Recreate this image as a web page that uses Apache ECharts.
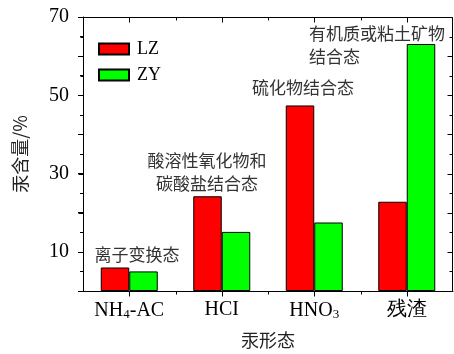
<!DOCTYPE html>
<html>
<head>
<meta charset="utf-8">
<script src="https://cdn.jsdelivr.net/npm/echarts@6/dist/echarts.min.js"></script>
<style>html,body{margin:0;padding:0;background:#fff;}#c{width:454px;height:354px;}</style>
</head>
<body>
<div id="c"></div>
<script>
const categories = ['NH{sub|4}-AC', 'HCI', 'HNO{sub|3}', '残渣'];
const seriesNames = ['LZ', 'ZY'];
const lzValues = [6.0, 24.2, 47.4, 22.8];
const zyValues = [5.0, 15.1, 17.5, 63.1];
const yTickLabels = [10, 30, 50, 70];
const annotations = ['离子变换态', '酸溶性氧化物和\n碳酸盐结合态', '硫化物结合态', '有机质或粘土矿物\n结合态'];

const serif = 'Liberation Serif';
const cjk = 'Noto Sans CJK SC';
const chart = echarts.init(document.getElementById('c'));

const ls = () => ({color: '#000', width: 1});
const annoStyle = {fontFamily: cjk, fontSize: 17, fill: '#333', lineHeight: 23};
const Y_MIN = 0, Y_MAX = 70;

chart.setOption({
  animation: false,
  grid: {left: 83, right: 1, top: 17, bottom: 62},
  legend: {
    orient: 'vertical', left: 93, top: 35,
    itemWidth: 30, itemHeight: 11, itemGap: 8,
    icon: 'rect',
    textStyle: {fontFamily: serif, fontSize: 18, color: '#000', padding: [0, 0, 0, 3]},
    data: seriesNames
  },
  xAxis: {
    type: 'category', data: categories, position: 'bottom',
    name: '汞形态', nameLocation: 'middle', nameGap: 40,
    nameTextStyle: {fontFamily: cjk, fontSize: 18, color: '#222'},
    axisLine: {show: true, lineStyle: ls()},
    axisTick: {show: true, alignWithLabel: true, length: 5, lineStyle: ls()},
    axisLabel: {
      show: true, interval: 0, margin: 9, fontFamily: serif, fontSize: 20, color: '#000',
      rich: {
        sub: {fontFamily: serif, fontSize: 13, color: '#000', verticalAlign: 'bottom', padding: [8, 0, 0, 0]}
      }
    }
  },
  yAxis: {
    type: 'value', min: Y_MIN, max: Y_MAX, interval: 10, position: 'left',
    name: '汞含量/%', nameLocation: 'middle', nameGap: 54, nameRotate: 90,
    nameTextStyle: {fontFamily: cjk, fontSize: 18, color: '#222'},
    splitLine: {show: false},
    axisLine: {show: true, lineStyle: ls()},
    axisTick: {show: true, length: 5, lineStyle: ls()},
    minorTick: {show: true, splitNumber: 2, length: 3, lineStyle: ls()},
    axisLabel: {
      margin: 14, fontFamily: serif, fontSize: 20, color: '#000',
      formatter: v => yTickLabels.indexOf(v) >= 0 ? String(v) : ''
    }
  },
  series: [
    {
      name: seriesNames[0], type: 'bar', data: lzValues, barWidth: 28.5, barGap: '0%',
      itemStyle: {color: '#ff0000', borderColor: '#000', borderWidth: 1}
    },
    {
      name: seriesNames[1], type: 'bar', data: zyValues, barWidth: 28.5, barGap: '0%',
      itemStyle: {color: '#00ff00', borderColor: '#000', borderWidth: 1}
    }
  ]
});

// Frame and mirrored ticks derived from the axes' own scales
const cx = i => chart.convertToPixel({xAxisIndex: 0}, i);
const yv = v => chart.convertToPixel({yAxisIndex: 0}, v);
const band = cx(1) - cx(0);
const L = Math.round(cx(0) - band / 2) + 0.5;
const R = Math.round(cx(categories.length - 1) + band / 2) - 0.5;
const T = Math.round(yv(Y_MAX)) + 0.5;
const B = Math.round(yv(Y_MIN)) + 0.5;
const seg = (x1, y1, x2, y2) => ({type: 'line', z: 100, silent: true,
  shape: {x1: x1, y1: y1, x2: x2, y2: y2}, style: {stroke: '#000', lineWidth: 1}});
const g = [];
g.push(seg(L, T, R, T), seg(L, B, R, B), seg(L, T, L, B), seg(R, T, R, B));
for (let v = Y_MIN; v <= Y_MAX; v += 5) {
  const y = Math.round(yv(v)) + 0.5;
  const len = v % 10 === 0 ? 5 : 3;
  g.push(seg(R - len, y, R, y));           // right, inside
  g.push(seg(L - len, y, L, y));           // left, outside
}
for (let i = 0; i < categories.length; i++) {
  const x = Math.round(cx(i)) + 0.5;
  g.push(seg(x, T, x, T + 5));             // top centre, inside
  g.push(seg(x, B, x, B + 5));             // bottom centre, outside
  if (i > 0) {
    const xb = Math.round(cx(i) - band / 2) + 0.5;
    g.push(seg(xb, T, xb, T + 3));
    g.push(seg(xb, B, xb, B + 3));
  }
}
g.push({type: 'text', x: 137, y: 255, style: Object.assign({text: annotations[0], align: 'center', verticalAlign: 'middle'}, annoStyle)});
g.push({type: 'text', x: 207, y: 172, style: Object.assign({text: annotations[1], align: 'center', verticalAlign: 'middle'}, annoStyle)});
g.push({type: 'text', x: 303, y: 88, style: Object.assign({text: annotations[2], align: 'center', verticalAlign: 'middle'}, annoStyle)});
g.push({type: 'text', x: 309, y: 45, style: Object.assign({text: annotations[3], align: 'left', verticalAlign: 'middle', lineHeight: 24}, annoStyle)});
chart.setOption({graphic: g});
</script>
</body>
</html>
